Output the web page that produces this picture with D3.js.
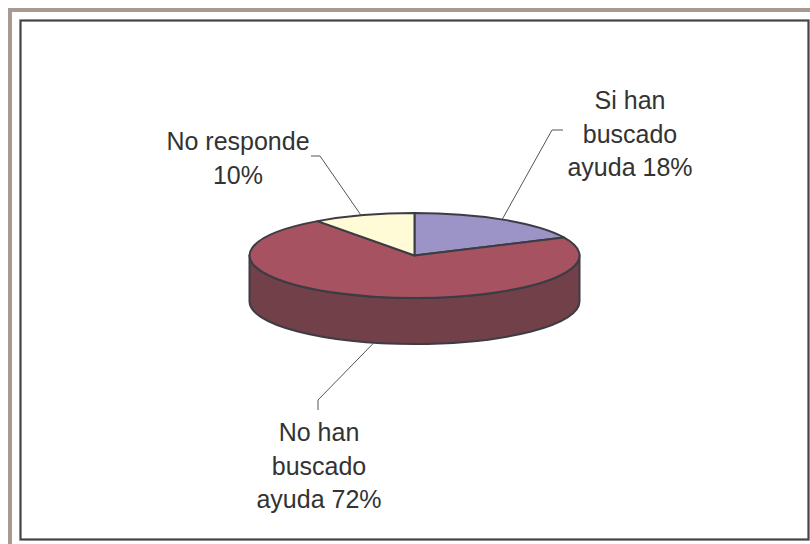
<!DOCTYPE html>
<html>
<head>
<meta charset="utf-8">
<script src="https://cdn.jsdelivr.net/npm/d3@7"></script>
<style>
  html, body { margin: 0; padding: 0; background: #fff; }
  svg { display: block; }
  text { font-family: "Liberation Sans", Arial, sans-serif; font-size: 25px; fill: #333; text-anchor: middle; }
</style>
</head>
<body>
<div id="chart"></div>
<script>
var svgWidth = 810;
var svgHeight = 544;

var categories = ["Si han buscado ayuda", "No han buscado ayuda", "No responde"];
var values = [18, 72, 10];
var topColors = ["#9C93C6", "#A65260", "#FFFBD6"];
var sideColors = ["#6E6990", "#724049", "#B8B59C"];

var labelLines = [
  ["Si han", "buscado", "ayuda 18%"],
  ["No han", "buscado", "ayuda 72%"],
  ["No responde", "10%"]
];

var svg = d3.select("#chart")
  .append("svg")
  .attr("width", svgWidth)
  .attr("height", svgHeight);

// outer tan frame, open on the right and bottom
svg.append("path")
  .attr("d", "M10,544V10H810")
  .attr("fill", "none")
  .attr("stroke", "#A89A92")
  .attr("stroke-width", 4);

// chart area
svg.append("rect")
  .attr("x", 20.5)
  .attr("y", 20.5)
  .attr("width", 788)
  .attr("height", 519)
  .attr("fill", "#fff")
  .attr("stroke", "#444")
  .attr("stroke-width", 2.2);

var cx = 414.5, cy = 255.5, rx = 165, ry = 42.5, depth = 46;

var pie = d3.pie().sort(null)(values);
var arc = d3.arc().innerRadius(0).outerRadius(rx);

// point on the top ellipse, angle measured clockwise from 12 o'clock
function px(a) { return cx + rx * Math.sin(a); }
function py(a) { return cy - ry * Math.cos(a); }

// side wall: only the front half of the rim is visible
var walls = svg.append("g");
pie.forEach(function(d, i) {
  var a0 = Math.max(d.startAngle, Math.PI / 2);
  var a1 = Math.min(d.endAngle, Math.PI * 3 / 2);
  if (a1 <= a0) return;
  var path = `M${px(a0)},${py(a0)}`
    + `A${rx},${ry} 0 0 1 ${px(a1)},${py(a1)}`
    + `V${py(a1) + depth}`
    + `A${rx},${ry} 0 0 0 ${px(a0)},${py(a0) + depth}Z`;
  walls.append("path")
    .attr("d", path)
    .attr("fill", sideColors[i])
    .attr("stroke", "#3c3c44")
    .attr("stroke-width", 2)
    .attr("stroke-linejoin", "round");
});

// top of the pie, a flat circle squashed into an ellipse
svg.append("g")
  .attr("transform", `translate(${cx},${cy}) scale(1,${ry / rx})`)
  .selectAll("path")
  .data(pie)
  .enter()
  .append("path")
  .attr("d", arc)
  .attr("fill", (d, i) => topColors[i])
  .attr("stroke", "#3c3c44")
  .attr("stroke-width", 2)
  .attr("stroke-linejoin", "round")
  .attr("vector-effect", "non-scaling-stroke");

// leader lines: elbow beside the label, then down to the rim
var labelX = [630, 319, 238];
var labelY = [109, 441, 150];
var leaders = [
  [[563, 130], [552, 130]],
  [[318, 410], [318, 400]],
  [[311, 156], [320, 156]]
];
var leaderAngle = [0.56, 3.39, -0.33];

leaders.forEach(function(pts, i) {
  var a = leaderAngle[i];
  var y = py(a) + (Math.cos(a) < 0 ? depth : 0);
  var pts2 = pts.concat([[px(a), y]]);
  svg.append("path")
    .attr("d", d3.line()(pts2))
    .attr("fill", "none")
    .attr("stroke", "#555")
    .attr("stroke-width", 1);
});

labelLines.forEach(function(lines, i) {
  var t = svg.append("text")
    .attr("x", labelX[i])
    .attr("y", labelY[i]);
  lines.forEach(function(s, j) {
    t.append("tspan")
      .attr("x", labelX[i])
      .attr("dy", j === 0 ? 0 : 33.5)
      .text(s);
  });
});
</script>
</body>
</html>
